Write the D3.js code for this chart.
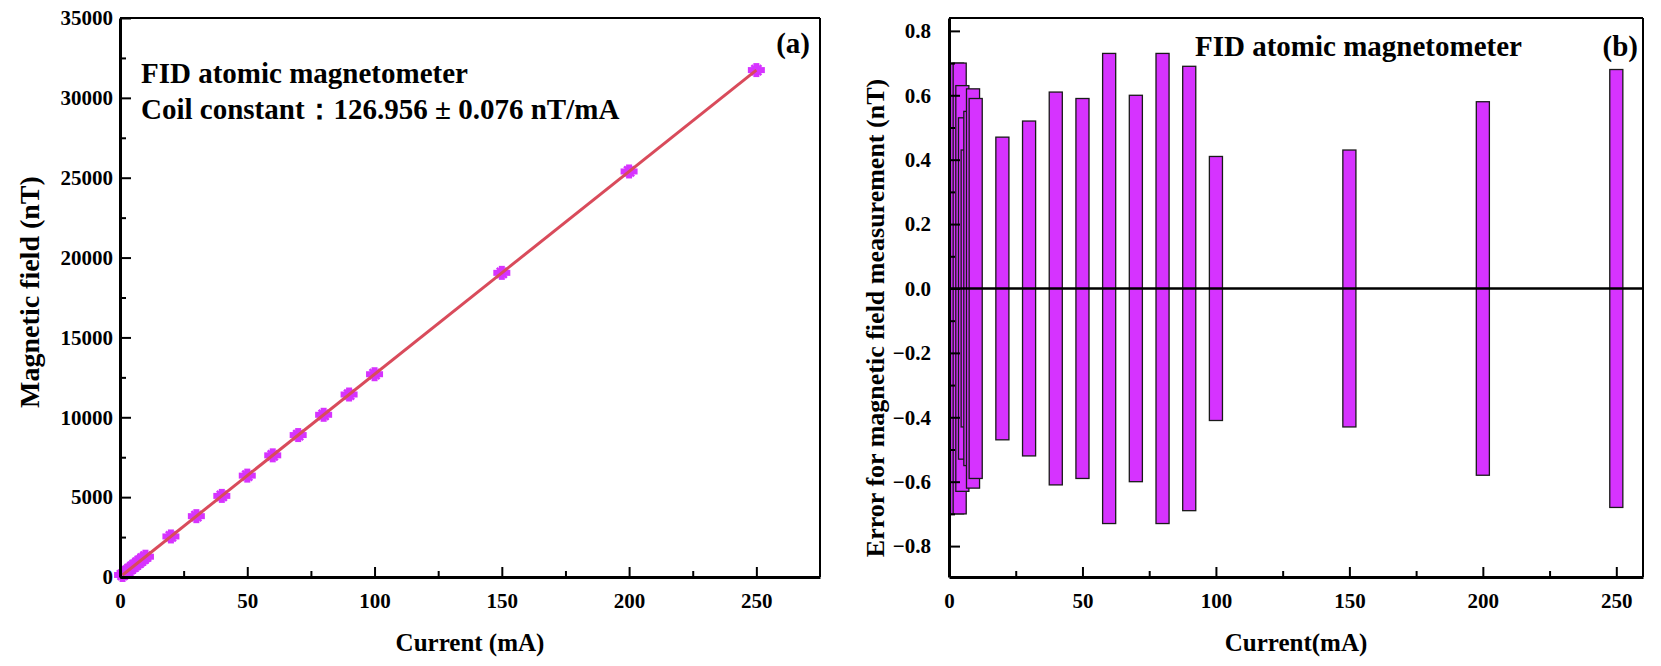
<!DOCTYPE html>
<html>
<head>
<meta charset="utf-8">
<script src="https://cdn.jsdelivr.net/npm/d3@7"></script>
<style>
  body { margin: 0; background: #fff; }
  text { font-family: "Liberation Serif", "Times New Roman", serif; font-weight: bold; fill: #000; }
</style>
</head>
<body>
<svg id="chart" width="1661" height="666"></svg>
<script>
// measured points: current (mA) vs magnetic field (nT)
var current = [1, 2, 3, 4, 5, 6, 7, 8, 9, 10, 20, 30, 40, 50, 60, 70, 80, 90, 100, 150, 200, 250];
var field = [127, 254, 381, 508, 635, 762, 889, 1016, 1143, 1270, 2539, 3809, 5078, 6348,
             7617, 8887, 10156, 11426, 12696, 19043, 25391, 31739];
// error for magnetic field measurement (nT), plotted as +/- columns
var fieldError = [0.66, 0.68, 0.70, 0.70, 0.63, 0.53, 0.43, 0.55, 0.62, 0.59, 0.47, 0.52,
                  0.61, 0.59, 0.73, 0.60, 0.73, 0.69, 0.41, 0.43, 0.58, 0.68];
// linear fit
var fitSlope = 126.956, fitIntercept = 0;

var currentTicks = [0, 50, 100, 150, 200, 250];
var currentMinor = [25, 75, 125, 175, 225];
var fieldTicks = [0, 5000, 10000, 15000, 20000, 25000, 30000, 35000];
var fieldMinor = [2500, 7500, 12500, 17500, 22500, 27500, 32500];
var errorTicks = [-0.8, -0.6, -0.4, -0.2, 0, 0.2, 0.4, 0.6, 0.8];
var errorMinor = [-0.7, -0.5, -0.3, -0.1, 0.1, 0.3, 0.5, 0.7];

var svg = d3.select("#chart");
var purple = "#d633ff";

function box(g, x, y) {
    var r = x.range(), t = y.range();
    g.append("line").attr("x1", r[0]).attr("x2", r[1]).attr("y1", t[1]).attr("y2", t[1])
     .attr("stroke", "#000").attr("stroke-width", 2);
    g.append("line").attr("x1", r[1]).attr("x2", r[1]).attr("y1", t[0]).attr("y2", t[1])
     .attr("stroke", "#000").attr("stroke-width", 2);
}

function axes(g, x, y, xt, xm, yt, ym, yfmt, ypad) {
    var h = y.range()[0];
    g.append("g").attr("transform", "translate(0," + h + ")")
        .call(d3.axisBottom(x).tickValues(xt).tickSizeInner(-10).tickSizeOuter(0).tickPadding(16));
    g.append("g").attr("transform", "translate(0," + h + ")")
        .call(d3.axisBottom(x).tickValues(xm).tickSizeInner(-6).tickSizeOuter(0).tickFormat(""))
        .select(".domain").remove();
    var x0 = x.range()[0];
    g.append("g").attr("transform", "translate(" + x0 + ",0)")
        .call(d3.axisLeft(y).tickValues(yt).tickSizeInner(-11).tickSizeOuter(0).tickPadding(ypad).tickFormat(yfmt));
    g.append("g").attr("transform", "translate(" + x0 + ",0)")
        .call(d3.axisLeft(y).tickValues(ym).tickSizeInner(-6).tickSizeOuter(0).tickFormat(""))
        .select(".domain").remove();
    g.selectAll(".tick line").attr("stroke", "#000").attr("stroke-width", 2);
    g.selectAll(".domain").attr("stroke", "#000").attr("stroke-width", 3);
    g.selectAll(".tick text").attr("font-size", 21)
        .style("font-family", "'Liberation Serif', serif").style("font-weight", "bold");
}

// ---- panel (a)
var xa = d3.scaleLinear().domain([0, 275]).range([120, 820]);
var ya = d3.scaleLinear().domain([0, 35000]).range([577, 18]);
var ga = svg.append("g");

box(ga, xa, ya);

var markers = ga.append("g");
current.forEach(function(c, i) {
    var cx = xa(c), cy = ya(field[i]);
    var m = markers.append("g").attr("transform", "translate(" + cx + "," + cy + ")");
    m.append("rect").attr("x", -8.5).attr("y", -3).attr("width", 17).attr("height", 6).attr("fill", purple);
    m.append("rect").attr("x", -3).attr("y", -7).attr("width", 6).attr("height", 14).attr("fill", purple);
    m.append("path").attr("d", "M-5,-5L5,5M-5,5L5,-5").attr("stroke", purple).attr("stroke-width", 2.5);
});

ga.append("path")
    .datum([current[0], current[current.length - 1]])
    .attr("d", d3.line().x(function(d) { return xa(d); })
                        .y(function(d) { return ya(fitSlope * d + fitIntercept); }))
    .attr("fill", "none").attr("stroke", "#d94b5b").attr("stroke-width", 3);

axes(ga, xa, ya, currentTicks, currentMinor, fieldTicks, fieldMinor, d3.format("d"), 7);

ga.append("text").attr("x", 141).attr("y", 83).attr("font-size", 29).text("FID atomic magnetometer");
ga.append("text").attr("x", 141).attr("y", 119).attr("font-size", 29)
    .text("Coil constant\uff1a126.956 \u00b1 0.076 nT/mA");
ga.append("text").attr("x", 810).attr("y", 53).attr("font-size", 29).attr("text-anchor", "end").text("(a)");
ga.append("text").attr("x", 470).attr("y", 651).attr("font-size", 25).attr("text-anchor", "middle").text("Current (mA)");
ga.append("text").attr("transform", "translate(39,292) rotate(-90)").attr("font-size", 28)
    .attr("text-anchor", "middle").text("Magnetic field (nT)");

// ---- panel (b)
var xb = d3.scaleLinear().domain([0, 260]).range([949, 1643]);
var yb = d3.scaleLinear().domain([-0.896, 0.84]).range([577, 18]);
var gb = svg.append("g");

svg.append("defs").append("clipPath").attr("id", "clipb")
    .append("rect").attr("x", 949).attr("y", 18).attr("width", 694).attr("height", 559);

var barW = xb(4.9) - xb(0);
gb.append("g").attr("clip-path", "url(#clipb)")
    .selectAll("rect").data(current).enter().append("rect")
    .attr("x", function(d) { return xb(d) - barW / 2; })
    .attr("y", function(d, i) { return yb(fieldError[i]); })
    .attr("width", barW)
    .attr("height", function(d, i) { return yb(-fieldError[i]) - yb(fieldError[i]); })
    .attr("fill", purple).attr("stroke", "#1a1a1a").attr("stroke-width", 1.3);

gb.append("line").attr("x1", xb(0)).attr("x2", xb(260)).attr("y1", yb(0)).attr("y2", yb(0))
    .attr("stroke", "#000").attr("stroke-width", 2.5);

box(gb, xb, yb);
axes(gb, xb, yb, currentTicks, currentMinor, errorTicks, errorMinor, d3.format(".1f"), 18);

gb.append("text").attr("x", 1195).attr("y", 56).attr("font-size", 29).text("FID atomic magnetometer");
gb.append("text").attr("x", 1638).attr("y", 56).attr("font-size", 29).attr("text-anchor", "end").text("(b)");
gb.append("text").attr("x", 1296).attr("y", 651).attr("font-size", 25).attr("text-anchor", "middle").text("Current(mA)");
gb.append("text").attr("transform", "translate(884,318) rotate(-90)").attr("font-size", 26)
    .attr("text-anchor", "middle").text("Error for magnetic field measurement (nT)");
</script>
</body>
</html>
